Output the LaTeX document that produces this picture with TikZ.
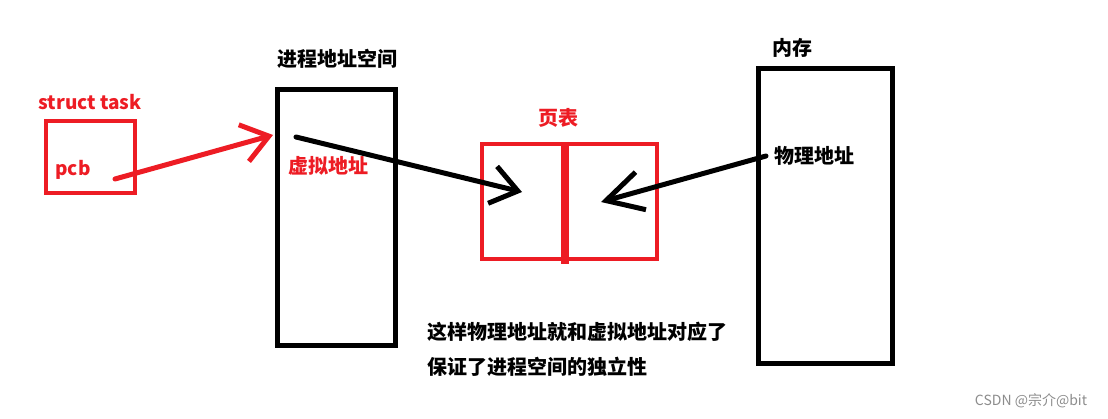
\documentclass[tikz,border=0pt]{standalone}
\usepackage{fontspec}
\setmainfont{Noto Sans CJK SC}
\usetikzlibrary{arrows.meta}
\definecolor{pred}{HTML}{ED1C24}

\begin{document}
\begin{tikzpicture}[x=1pt,y=-1pt,
    lbl/.style={inner sep=0pt,font=\fontsize{20}{24}\selectfont\bfseries},
    redlbl/.style={lbl,text=pred},
    latlbl/.style={redlbl,font=\fontsize{19}{22}\selectfont\bfseries},
    blkbox/.style={draw,line width=5pt,inner sep=0pt},
    redbox/.style={draw=pred,line width=4pt,inner sep=0pt},
    barb/.style={line width=5pt,line cap=round,-{Straight Barb[length=26pt,width=38pt]}}]
    \useasboundingbox (0,0) rectangle (1108,419);
    \node[latlbl] (task) at (90,102) {struct task};
    \node[redbox,minimum width=89pt,minimum height=72pt] (pcbbox) at (90.5,157) {};
    \node[latlbl] (pcb) at (73,170) {pcb};
    \node[blkbox,minimum width=118pt,minimum height=256pt] (vspace) at (336,218) {};
    \node[lbl] (vtitle) at (337,59) {进程地址空间};
    \node[redlbl] (vaddr) at (328,166) {虚拟地址};
    \node[redbox,minimum width=175pt,minimum height=115pt] (ptab) at (569.5,201.5) {};
    \node[redlbl] (ptitle) at (558,118) {页表};
    \node[blkbox,minimum width=134pt,minimum height=295pt] (mem) at (825,216.5) {};
    \node[lbl] (mtitle) at (792,48) {内存};
    \node[lbl] (paddr) at (814,156) {物理地址};
    \node[lbl,anchor=west] (note1) at (427,332) {这样物理地址就和虚拟地址对应了};
    \node[lbl,anchor=west] (note2) at (427,367) {保证了进程空间的独立性};
    \node[inner sep=0pt,text=black!45,font=\fontsize{14}{16}\selectfont] (mark) at (1031,401) {CSDN @宗介@bit};
    \coordinate (pcbout) at (115,179);
    \coordinate (vin) at (273,135);
    \coordinate (vout) at (296,137);
    \coordinate (ptl) at (522,192);
    \coordinate (mout) at (766,156);
    \coordinate (ptr) at (601,202);
    \draw [pred,line width=8pt] (ptab.north) ++(-4.5,0) -- ++(0,122);
    \draw [barb,pred] (pcbout) -- (vin);
    \draw [barb] (vout) -- (ptl);
    \draw [barb,-{Straight Barb[length=36pt,width=39pt]}] (mout) -- (ptr);
\end{tikzpicture}
\end{document}
